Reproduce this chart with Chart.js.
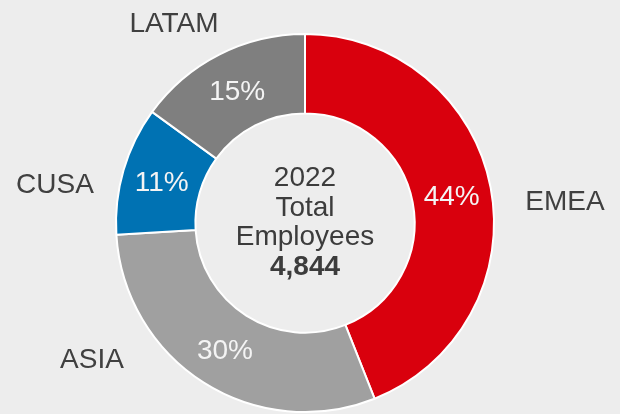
<!DOCTYPE html>
<html lang="en">
<head>
    <meta charset="UTF-8">
    <title>2022 Total Employees</title>
    <script src="https://cdn.jsdelivr.net/npm/chart.js"></script>
    <style>
        html, body {
            margin: 0;
            padding: 0;
            background: #ededed;
        }
        canvas {
            display: block;
        }
    </style>
</head>
<body>
<canvas id="employees" width="620" height="414"></canvas>
<script>
    // data
    const regions = ['EMEA', 'ASIA', 'CUSA', 'LATAM'];
    const shares = [44, 30, 11, 15];
    const colors = ['#d9000d', '#a0a0a0', '#0072b3', '#7f7f7f'];
    const centerLines = ['2022', 'Total', 'Employees'];
    const totalEmployees = '4,844';

    // where the region names sit, relative to the doughnut centre
    const nameOffsets = [[260, -23], [-213, 135], [-250, -40], [-131, -201]];

    const FONT = '"Liberation Sans", Arial, sans-serif';

    const labelsPlugin = {
        id: 'labels',
        afterDraw(chart) {
            const ctx = chart.ctx;
            const arcs = chart.getDatasetMeta(0).data;
            const cx = arcs[0].x, cy = arcs[0].y;
            ctx.save();
            ctx.textAlign = 'center';
            ctx.textBaseline = 'alphabetic';
            ctx.font = '28px ' + FONT;

            // percentages inside the ring
            arcs.forEach(function (arc, i) {
                const p = arc.getProps(['startAngle', 'endAngle', 'innerRadius', 'outerRadius']);
                const mid = (p.startAngle + p.endAngle) / 2;
                const r = (p.innerRadius + p.outerRadius) / 2;
                ctx.fillStyle = '#f4f4f4';
                ctx.fillText(shares[i] + '%', cx + Math.cos(mid) * r, cy + Math.sin(mid) * r + 10);
            });

            // region names
            ctx.fillStyle = '#404040';
            regions.forEach(function (name, i) {
                ctx.fillText(name, cx + nameOffsets[i][0], cy + nameOffsets[i][1] + 10);
            });

            // centre text
            ctx.fillStyle = '#3c3c3c';
            centerLines.forEach(function (line, i) {
                ctx.fillText(line, cx, cy - 37 + i * 29.5);
            });
            ctx.font = 'bold 28px ' + FONT;
            ctx.fillText(totalEmployees, cx, cy - 37 + 3 * 29.5);
            ctx.restore();
        }
    };

    new Chart(document.getElementById('employees'), {
        type: 'doughnut',
        data: {
            labels: regions,
            datasets: [{
                data: shares,
                backgroundColor: colors,
                borderColor: '#ffffff',
                borderWidth: 2
            }]
        },
        options: {
            responsive: false,
            animation: false,
            cutout: '58%',
            layout: {
                padding: {left: 115, right: 125, top: 33, bottom: 1}
            },
            plugins: {
                legend: {display: false},
                tooltip: {enabled: false}
            }
        },
        plugins: [labelsPlugin]
    });
</script>
</body>
</html>
